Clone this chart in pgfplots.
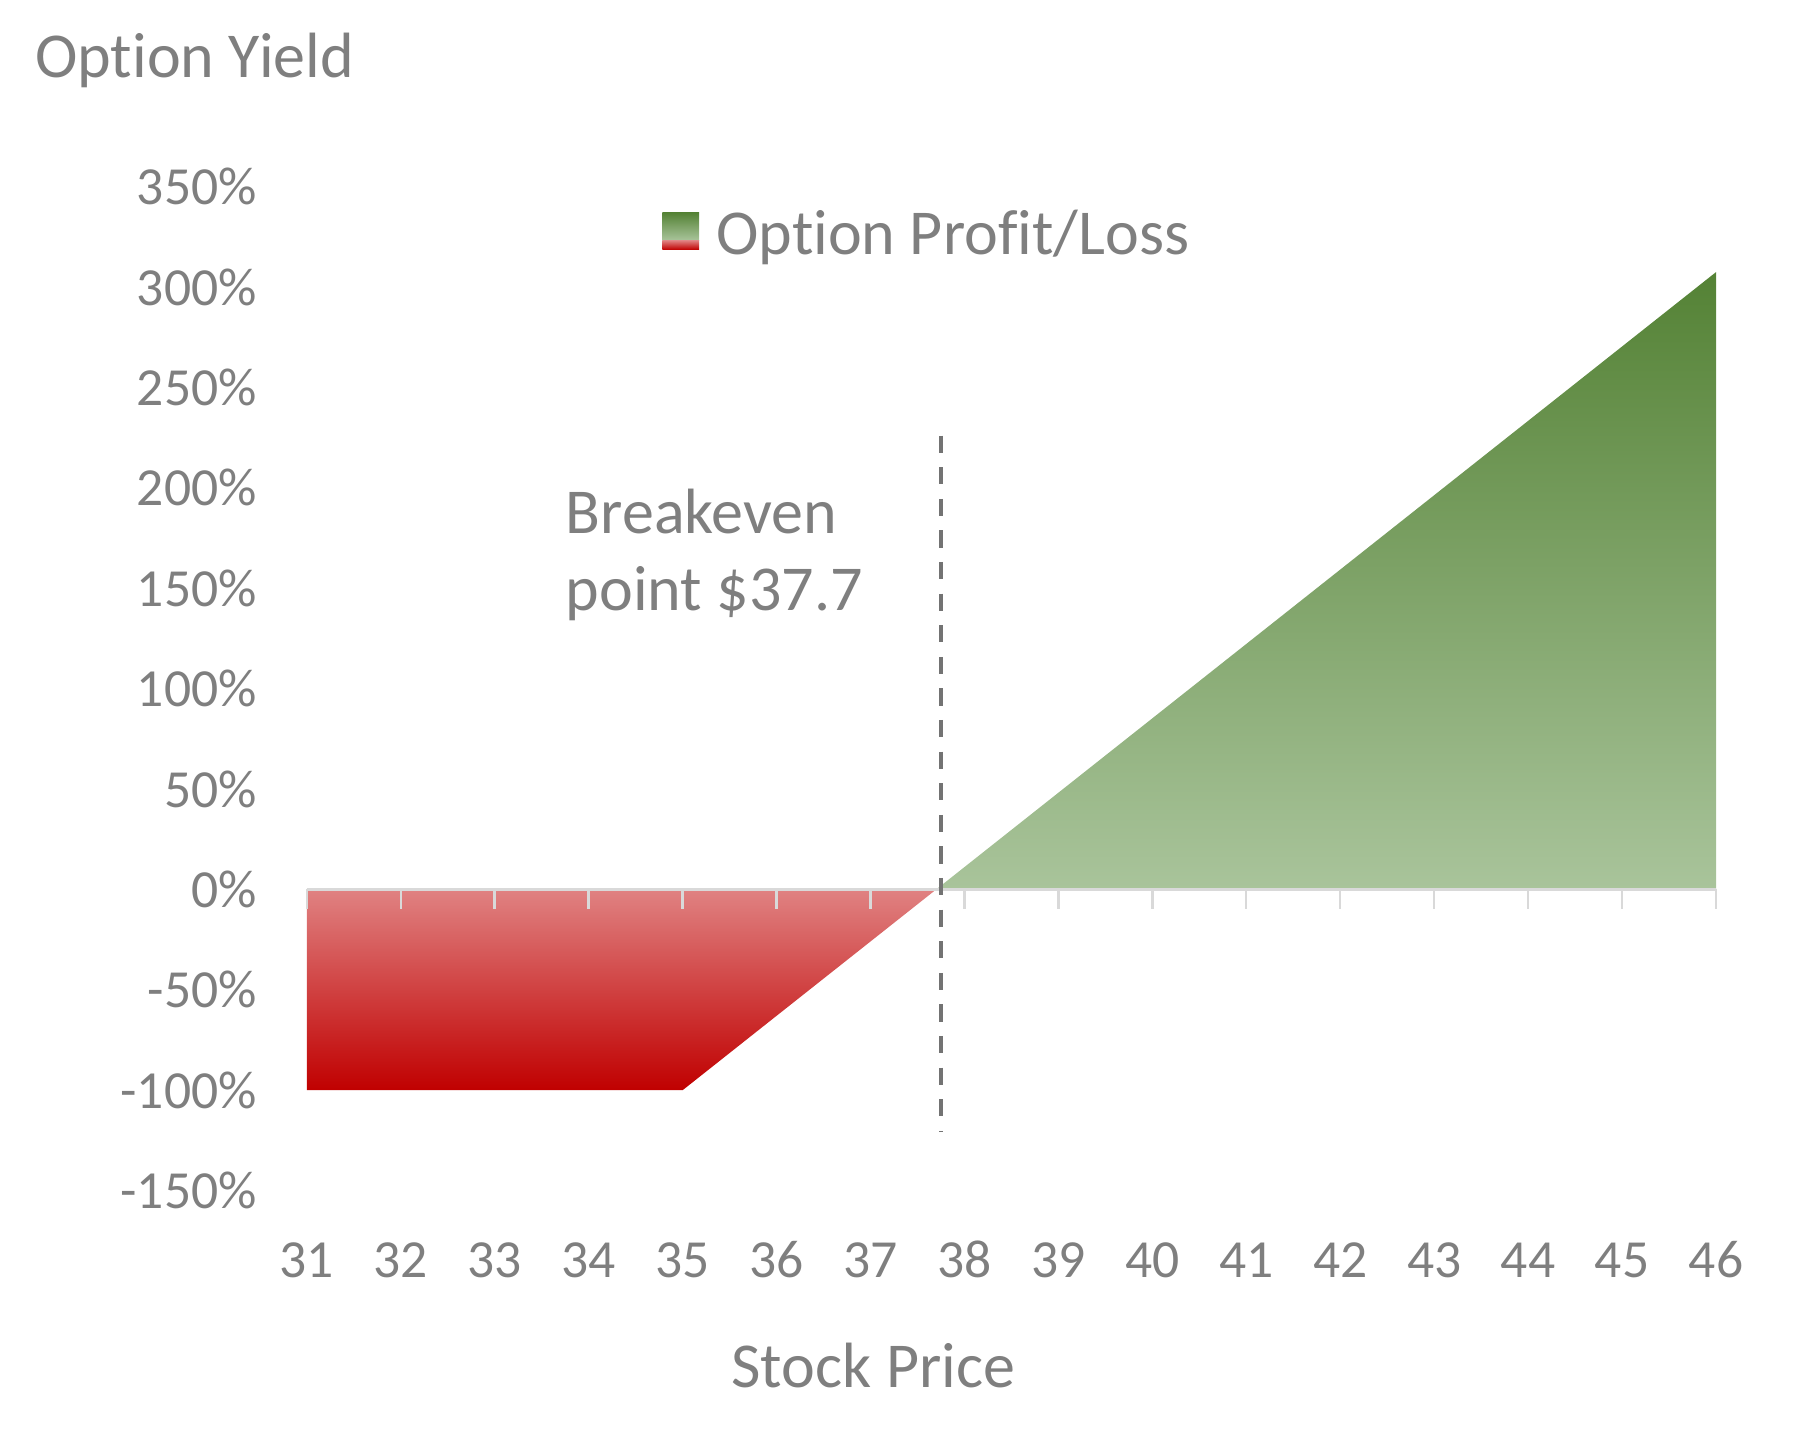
\documentclass[border=0pt]{standalone}
\usepackage{fontspec}
\setmainfont{Carlito}[Ligatures=NoCommon]
\usepackage{pgfplots}
\pgfplotsset{compat=1.18}
\definecolor{txt}{HTML}{7F7F7F}
\definecolor{Gdark}{HTML}{548235}
\definecolor{Glight}{HTML}{A9C49B}
\definecolor{Rlight}{HTML}{E08282}
\definecolor{Rdark}{HTML}{C00000}
\definecolor{axisgray}{HTML}{D9D9D9}
\definecolor{dashgray}{HTML}{737373}
\begin{document}
\begin{tikzpicture}
\begin{axis}[
  scale only axis, width=352.3pt, height=251pt,
  xmin=31, xmax=46, ymin=-150, ymax=350,
  axis line style={draw=none},
  tick style={draw=none},
  xtick={31,...,46}, ytick={-150,-100,...,350},
  yticklabels={-150\%,-100\%,-50\%,0\%,50\%,100\%,150\%,200\%,250\%,300\%,350\%},
  /pgf/number format/assume math mode=true,
  ticklabel style={font=\fontsize{13.4}{16}\selectfont, text=txt},
  xticklabel style={anchor=base, yshift=-21.7pt, inner sep=0pt},
  yticklabel style={anchor=east, xshift=-12.3pt, inner sep=0pt},
  xlabel={Stock Price},
  xlabel style={at={(axis description cs:0.402,-0.196)}, anchor=base, font=\fontsize{16}{19.5}\selectfont, text=txt, inner sep=0pt},
  title={Option Yield},
  title style={at={(axis description cs:-0.1933,1.0845)}, anchor=base west, font=\fontsize{16}{19.5}\selectfont, text=txt, inner sep=0pt},
  legend style={at={(axis description cs:0.2518,0.952)}, anchor=west, draw=none, fill=none, inner sep=0pt,
    font=\fontsize{16}{19.5}\selectfont, text=txt, nodes={inner xsep=4.3pt, inner ysep=0pt}},
  legend cell align=left,
  clip=false,
]
% profit (green)
\addplot[draw=none, top color=Gdark, bottom color=Glight,
  legend image code/.code={
    \shade[top color=Gdark, bottom color=Glight] (0pt,-1.4pt) rectangle (9.2pt,5.5pt);
    \shade[top color=Rlight, bottom color=Rdark] (0pt,-3.7pt) rectangle (9.2pt,-1.4pt);
  }]
  coordinates {(37.7,0) (38,11.11) (39,48.15) (40,85.19) (41,122.22) (42,159.26)
               (43,196.30) (44,233.33) (45,270.37) (46,307.41)} \closedcycle;
\addlegendentry{Option Profit/Loss}
% loss (red)
\addplot[draw=none, top color=Rlight, bottom color=Rdark, forget plot]
  coordinates {(31,-100) (32,-100) (33,-100) (34,-100) (35,-100) (36,-62.96)
               (37,-25.93) (37.7,0)} \closedcycle;
% zero line and tick marks
\draw[axisgray, line width=0.8pt] (axis cs:31,0) -- (axis cs:46,0);
\pgfplotsinvokeforeach{31,...,46}{\draw[axisgray, line width=0.6pt] (axis cs:#1,0) -- ([yshift=-5pt]axis cs:#1,0);}
% breakeven
\addplot[dashgray, line width=1.1pt, dash pattern=on 4.3pt off 3.6pt, forget plot]
  coordinates {(37.75,226) (37.75,-120.5)};
\node[anchor=base west, inner sep=0pt, text=txt, font=\fontsize{16}{19.5}\selectfont] at (axis cs:33.75,177.4) {Breakeven};
\node[anchor=base west, inner sep=0pt, text=txt, font=\fontsize{16}{19.5}\selectfont] at (axis cs:33.75,138.7) {point \$37.7};
\coordinate (bl) at (rel axis cs:0,0);
\coordinate (tr) at (rel axis cs:1,1);
\end{axis}
\pgfresetboundingbox
\path[use as bounding box] ([shift={(-76.7pt,-66.1pt)}]bl) rectangle ([shift={(19.75pt,46.65pt)}]tr);
\end{tikzpicture}
\end{document}
